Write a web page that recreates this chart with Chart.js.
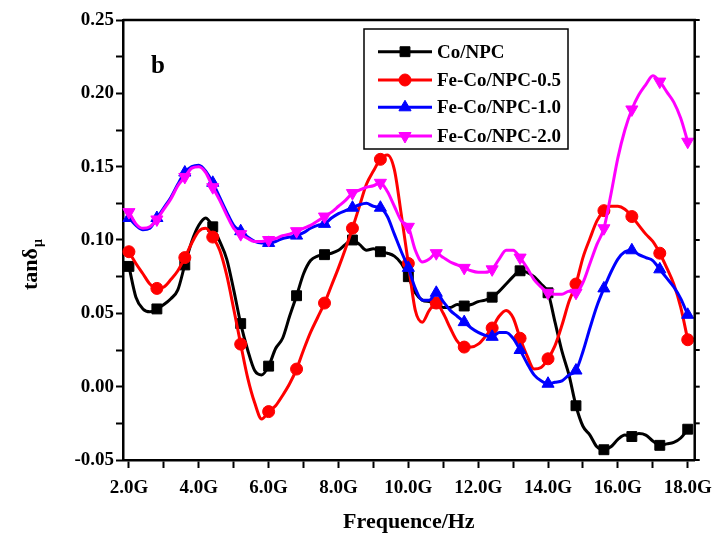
<!DOCTYPE html>
<html lang="en">
<head>
    <meta charset="UTF-8" />
    <title>tan delta mu vs frequence</title>
    <script src="https://cdn.jsdelivr.net/npm/chart.js"></script>
    <style>
        body { margin: 0; background: #fff; }
        #wrap { width: 721px; height: 543px; }
    </style>
</head>
<body>
    <div id="wrap">
        <canvas id="myChart" width="721" height="543"></canvas>
    </div>

    <script>
        // frequency grid (GHz)
        const freq = [2.0, 2.2, 2.4, 2.6, 2.8, 3.0, 3.2, 3.4, 3.6, 3.8,
            4.0, 4.2, 4.4, 4.6, 4.8, 5.0, 5.2, 5.4, 5.6, 5.8,
            6.0, 6.2, 6.4, 6.6, 6.8, 7.0, 7.2, 7.4, 7.6, 7.8,
            8.0, 8.2, 8.4, 8.6, 8.8, 9.0, 9.2, 9.4, 9.6, 9.8,
            10.0, 10.2, 10.4, 10.6, 10.8, 11.0, 11.2, 11.4, 11.6, 11.8,
            12.0, 12.2, 12.4, 12.6, 12.8, 13.0, 13.2, 13.4, 13.6, 13.8,
            14.0, 14.2, 14.4, 14.6, 14.8, 15.0, 15.2, 15.4, 15.6, 15.8,
            16.0, 16.2, 16.4, 16.6, 16.8, 17.0, 17.2, 17.4, 17.6, 17.8,
            18.0];

        const coNPC = [0.082, 0.061, 0.053, 0.051, 0.053, 0.056, 0.060, 0.066, 0.083, 0.099,
            0.110, 0.115, 0.109, 0.099, 0.087, 0.066, 0.043, 0.025, 0.011, 0.008,
            0.014, 0.026, 0.033, 0.048, 0.062, 0.077, 0.086, 0.089, 0.090, 0.091,
            0.093, 0.097, 0.100, 0.097, 0.093, 0.094, 0.092, 0.091, 0.089, 0.084,
            0.075, 0.064, 0.059, 0.058, 0.057, 0.054, 0.054, 0.056, 0.055, 0.056,
            0.058, 0.059, 0.061, 0.065, 0.070, 0.075, 0.079, 0.078, 0.075, 0.070,
            0.064, 0.044, 0.024, 0.008, -0.013, -0.027, -0.033, -0.041, -0.043, -0.041,
            -0.036, -0.033, -0.034, -0.032, -0.033, -0.037, -0.040, -0.039, -0.038, -0.035,
            -0.029];

        const feCo05 = [0.092, 0.084, 0.077, 0.070, 0.067, 0.068, 0.073, 0.079, 0.088, 0.098,
            0.106, 0.108, 0.102, 0.093, 0.076, 0.053, 0.029, 0.006, -0.011, -0.022,
            -0.017, -0.013, -0.006, 0.002, 0.012, 0.025, 0.037, 0.047, 0.057, 0.069,
            0.081, 0.094, 0.108, 0.123, 0.138, 0.147, 0.155, 0.158, 0.148, 0.117,
            0.084, 0.052, 0.044, 0.052, 0.057, 0.050, 0.040, 0.031, 0.027, 0.027,
            0.029, 0.034, 0.040, 0.048, 0.052, 0.047, 0.033, 0.021, 0.012, 0.013,
            0.019, 0.028, 0.042, 0.058, 0.070, 0.088, 0.101, 0.113, 0.120, 0.123,
            0.123, 0.121, 0.116, 0.110, 0.104, 0.099, 0.091, 0.081, 0.070, 0.054,
            0.032];

        const feCo10 = [0.115, 0.110, 0.107, 0.108, 0.115, 0.122, 0.129, 0.138, 0.146, 0.150,
            0.151, 0.147, 0.139, 0.129, 0.119, 0.110, 0.106, 0.102, 0.099, 0.098,
            0.098, 0.099, 0.101, 0.102, 0.103, 0.105, 0.108, 0.110, 0.111, 0.115,
            0.118, 0.120, 0.122, 0.124, 0.125, 0.123, 0.122, 0.116, 0.104, 0.092,
            0.081, 0.067, 0.059, 0.059, 0.064, 0.058, 0.052, 0.048, 0.044, 0.040,
            0.037, 0.035, 0.034, 0.037, 0.037, 0.033, 0.025, 0.016, 0.008, 0.004,
            0.002, 0.003, 0.004, 0.008, 0.011, 0.024, 0.040, 0.055, 0.067, 0.078,
            0.087, 0.092, 0.093, 0.090, 0.088, 0.086, 0.080, 0.074, 0.068, 0.060,
            0.049];

        const feCo20 = [0.119, 0.111, 0.108, 0.109, 0.114, 0.121, 0.128, 0.137, 0.143, 0.149,
            0.150, 0.146, 0.136, 0.127, 0.117, 0.108, 0.104, 0.101, 0.099, 0.099,
            0.100, 0.101, 0.103, 0.104, 0.106, 0.108, 0.110, 0.113, 0.116, 0.119,
            0.123, 0.127, 0.132, 0.134, 0.136, 0.137, 0.139, 0.133, 0.123, 0.113,
            0.109, 0.093, 0.085, 0.087, 0.091, 0.088, 0.085, 0.083, 0.081, 0.079,
            0.078, 0.078, 0.080, 0.087, 0.093, 0.093, 0.088, 0.081, 0.073, 0.068,
            0.064, 0.063, 0.063, 0.065, 0.064, 0.071, 0.084, 0.097, 0.108, 0.131,
            0.156, 0.175, 0.189, 0.199, 0.206, 0.212, 0.208, 0.201, 0.194, 0.183,
            0.167];

        const seriesNames = ["Co/NPC", "Fe-Co/NPC-0.5", "Fe-Co/NPC-1.0", "Fe-Co/NPC-2.0"];

        const xTickValues = [2, 3, 4, 5, 6, 7, 8, 9, 10, 11, 12, 13, 14, 15, 16, 17, 18];
        const xTickLabels = ["2.0G", "", "4.0G", "", "6.0G", "", "8.0G", "", "10.0G", "", "12.0G", "", "14.0G", "", "16.0G", "", "18.0G"];
        const yTickValues = [-0.05, -0.025, 0, 0.025, 0.05, 0.075, 0.1, 0.125, 0.15, 0.175, 0.2, 0.225, 0.25];
        const yTickLabels = ["-0.05", "", "0.00", "", "0.05", "", "0.10", "", "0.15", "", "0.20", "", "0.25"];

        const FONT = "'Liberation Serif', 'Times New Roman', serif";
        Chart.defaults.font.family = FONT;
        Chart.defaults.color = "#000";

        const styles = [
            { color: "#000000", pointStyle: "rect", radius: 7, rotation: 0, order: 3 },
            { color: "#ff0000", pointStyle: "circle", radius: 6, rotation: 0, order: 2 },
            { color: "#0000ff", pointStyle: "triangle", radius: 7, rotation: 0, order: 1 },
            { color: "#ff00ff", pointStyle: "triangle", radius: 7, rotation: 180, order: 0 },
        ];

        function makeSet(name, values, st) {
            return {
                label: name,
                data: freq.map((f, i) => ({ x: f, y: values[i] })),
                borderColor: st.color,
                backgroundColor: st.color,
                borderWidth: 3,
                pointStyle: st.pointStyle,
                pointRotation: st.rotation,
                pointBorderWidth: 1,
                pointRadius: (ctx) => (ctx.dataIndex % 4 === 0 ? st.radius : 0),
                pointHoverRadius: 0,
                cubicInterpolationMode: "monotone",
                clip: false,
                order: st.order,
            };
        }

        const decor = {
            id: "decor",
            afterDraw(chart) {
                const ctx = chart.ctx;
                const a = chart.chartArea;
                const y = chart.scales.y;
                ctx.save();
                ctx.strokeStyle = "#000";
                ctx.fillStyle = "#000";

                // top and right frame
                ctx.lineWidth = 2.5;
                ctx.beginPath();
                ctx.moveTo(a.left, a.top);
                ctx.lineTo(a.right, a.top);
                ctx.lineTo(a.right, a.bottom);
                ctx.stroke();

                // ticks on the right side
                ctx.lineWidth = 2;
                yTickValues.forEach((v) => {
                    const py = y.getPixelForValue(v);
                    ctx.beginPath();
                    ctx.moveTo(a.right, py);
                    ctx.lineTo(a.right + 5, py);
                    ctx.stroke();
                });

                // axis titles
                ctx.font = "bold 22px " + FONT;
                ctx.textAlign = "center";
                ctx.textBaseline = "alphabetic";
                ctx.fillText("Frequence/Hz", (a.left + a.right) / 2, 528);

                ctx.save();
                ctx.translate(37, 290);
                ctx.rotate(-Math.PI / 2);
                ctx.textAlign = "left";
                ctx.font = "bold 22px " + FONT;
                ctx.fillText("tanδ", 0, 0);
                const w = ctx.measureText("tanδ").width;
                ctx.font = "bold 14px " + FONT;
                ctx.fillText("μ", w + 1, 5);
                ctx.restore();

                // panel letter
                ctx.font = "bold 25px " + FONT;
                ctx.textAlign = "left";
                ctx.fillText("b", 151, 73);

                // legend
                const box = { x: 364, y: 29, w: 204, h: 120 };
                ctx.fillStyle = "#fff";
                ctx.fillRect(box.x, box.y, box.w, box.h);
                ctx.lineWidth = 1.5;
                ctx.strokeRect(box.x, box.y, box.w, box.h);
                const rows = [51.7, 80, 107.3, 136];
                ctx.font = "bold 19px " + FONT;
                ctx.textBaseline = "middle";
                seriesNames.forEach((name, i) => {
                    const st = styles[i];
                    const ry = rows[i];
                    ctx.strokeStyle = st.color;
                    ctx.fillStyle = st.color;
                    ctx.lineWidth = 3;
                    ctx.beginPath();
                    ctx.moveTo(378, ry);
                    ctx.lineTo(432, ry);
                    ctx.stroke();
                    ctx.lineWidth = 1;
                    Chart.helpers.drawPoint(ctx, {
                        pointStyle: st.pointStyle,
                        rotation: st.rotation,
                        radius: st.radius,
                        borderWidth: 1,
                    }, 405, ry);
                    ctx.fillStyle = "#000";
                    ctx.fillText(name, 437, ry + 1);
                });
                ctx.restore();
            },
        };

        const tickFont = { family: FONT, size: 19, weight: "bold" };

        const ctx = document.getElementById("myChart").getContext("2d");
        window.myChart = new Chart(ctx, {
            type: "line",
            data: {
                datasets: [
                    makeSet(seriesNames[0], coNPC, styles[0]),
                    makeSet(seriesNames[1], feCo05, styles[1]),
                    makeSet(seriesNames[2], feCo10, styles[2]),
                    makeSet(seriesNames[3], feCo20, styles[3]),
                ],
            },
            options: {
                responsive: false,
                animation: false,
                layout: { padding: { left: 0, right: 21, top: 20, bottom: 0 } },
                plugins: {
                    legend: { display: false },
                    tooltip: { enabled: false },
                },
                scales: {
                    x: {
                        type: "linear",
                        min: 1.83,
                        max: 18.2,
                        afterBuildTicks: (s) => { s.ticks = xTickValues.map((v) => ({ value: v })); },
                        afterFit: (s) => { s.height = 83; },
                        ticks: {
                            autoSkip: false,
                            maxRotation: 0,
                            padding: 9,
                            color: "#000",
                            font: tickFont,
                            callback: (v, i) => xTickLabels[i],
                        },
                        grid: {
                            drawOnChartArea: false,
                            drawTicks: true,
                            tickLength: 8,
                            tickWidth: 2,
                            tickColor: "#000",
                        },
                        border: { display: true, color: "#000", width: 2.5 },
                    },
                    y: {
                        min: -0.05,
                        max: 0.25,
                        afterBuildTicks: (s) => { s.ticks = yTickValues.map((v) => ({ value: v })); },
                        afterFit: (s) => { s.width = 123; },
                        ticks: {
                            autoSkip: false,
                            padding: 2,
                            color: "#000",
                            font: tickFont,
                            callback: (v, i) => yTickLabels[i],
                        },
                        grid: {
                            drawOnChartArea: false,
                            drawTicks: true,
                            tickLength: 7,
                            tickWidth: 2,
                            tickColor: "#000",
                        },
                        border: { display: true, color: "#000", width: 2.5 },
                    },
                },
            },
            plugins: [decor],
        });
    </script>
</body>
</html>
